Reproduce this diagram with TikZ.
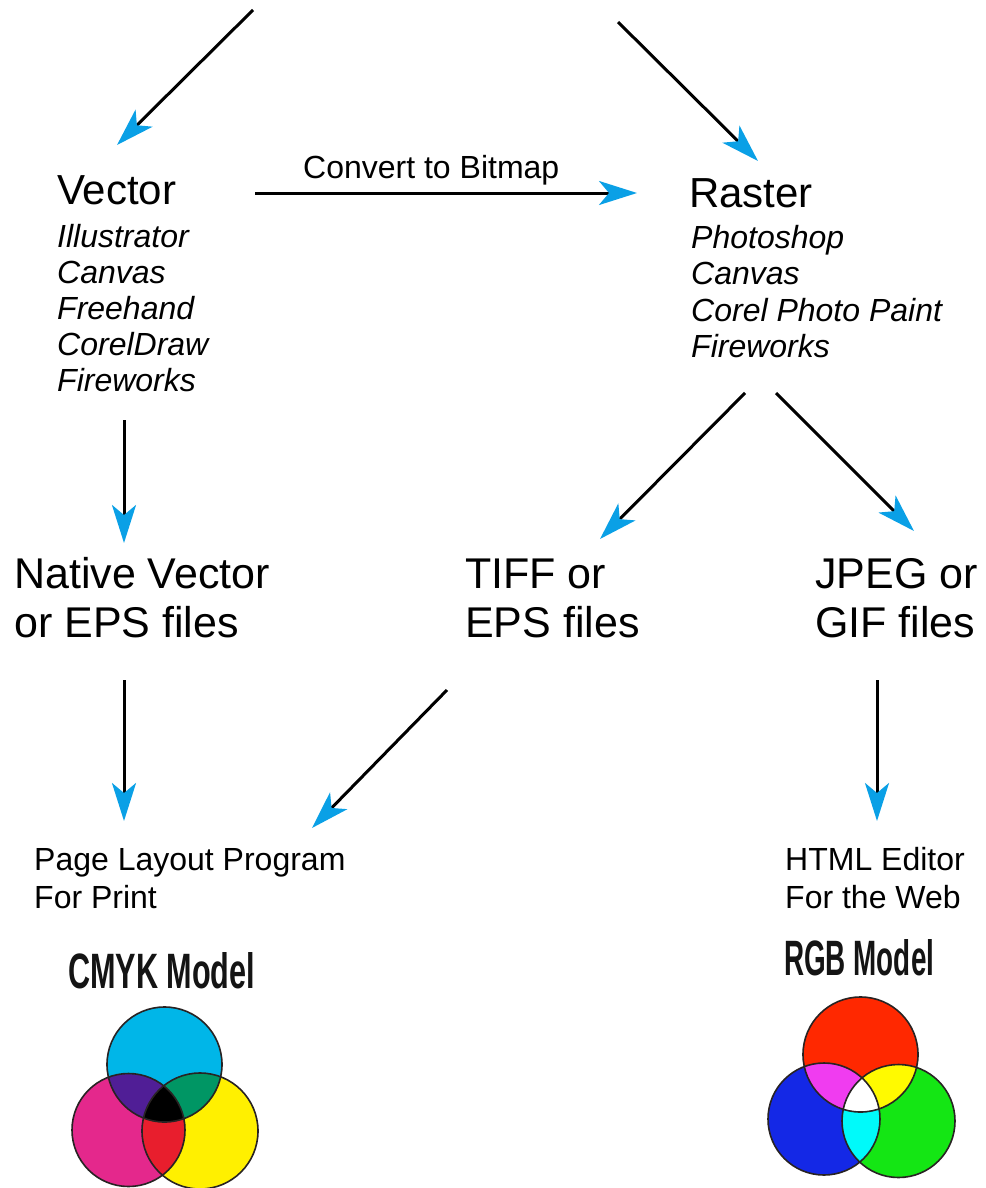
\documentclass[tikz,border=0pt]{standalone}
\usepackage{fontspec}
\setmainfont{Liberation Sans}
\usetikzlibrary{arrows.meta}
\definecolor{arrowblue}{RGB}{10,160,230}
\definecolor{cmykC}{RGB}{0,182,232}
\definecolor{cmykM}{RGB}{228,40,140}
\definecolor{cmykY}{RGB}{255,240,0}
\definecolor{cmykCM}{RGB}{80,30,150}
\definecolor{cmykCY}{RGB}{0,150,100}
\definecolor{cmykMY}{RGB}{232,30,45}
\definecolor{rgbR}{RGB}{255,40,0}
\definecolor{rgbB}{RGB}{20,40,230}
\definecolor{rgbG}{RGB}{20,230,20}
\definecolor{rgbRB}{RGB}{240,60,240}
\definecolor{rgbRG}{RGB}{255,250,0}
\definecolor{rgbBG}{RGB}{0,250,250}
\definecolor{outl}{RGB}{40,35,35}
\definecolor{labelgray}{RGB}{20,20,20}
\tikzset{
  arr/.style={line width=3pt, -{Stealth[length=38pt,width=24pt,inset=10pt,color=arrowblue]}},
  head/.style={anchor=base west, inner sep=0pt, font=\fontsize{42}{42}\selectfont},
  listblk/.style={anchor=base west, inner sep=0pt},
  small/.style={anchor=base west, inner sep=0pt},
  outline/.style={draw=outl, line width=1.6pt},
}
\begin{document}
\begin{tikzpicture}[x=1pt,y=-1pt]
\fill[white] (0,0) rectangle (985,1188);
\useasboundingbox (0,0) rectangle (985,1188);

% Text blocks
\node[head] (vector) at (57,204) {Vector};
\node[listblk] (vlist) at (57,247) {\fontsize{32}{36}\selectfont\itshape
  \begin{tabular}[t]{@{}l@{}}Illustrator\\Canvas\\Freehand\\CorelDraw\\Fireworks\end{tabular}};
\node[head] (raster) at (689,207) {Raster};
\node[listblk] (rlist) at (691,248) {\fontsize{32}{36.5}\selectfont\itshape
  \begin{tabular}[t]{@{}l@{}}Photoshop\\Canvas\\Corel Photo Paint\\Fireworks\end{tabular}};
\node[small] (conv) at (303,178) {\fontsize{32}{32}\selectfont Convert to Bitmap};

\node[listblk] (native) at (14,588) {\fontsize{43}{49}\selectfont
  \begin{tabular}[t]{@{}l@{}}Native Vector\\or EPS files\end{tabular}};
\node[listblk] (tiff) at (465,588) {\fontsize{43}{49}\selectfont
  \begin{tabular}[t]{@{}l@{}}TIFF or\\EPS files\end{tabular}};
\node[listblk] (jpeg) at (815,588) {\fontsize{43}{49}\selectfont
  \begin{tabular}[t]{@{}l@{}}JPEG or\\GIF files\end{tabular}};

\node[listblk] (page) at (34,870) {\fontsize{32}{38}\selectfont
  \begin{tabular}[t]{@{}l@{}}Page Layout Program\\For Print\end{tabular}};
\node[listblk] (html) at (785,870) {\fontsize{32}{38}\selectfont
  \begin{tabular}[t]{@{}l@{}}HTML Editor\\For the Web\end{tabular}};

\node[anchor=south west, inner sep=0pt, text=labelgray] (cmyklab) at (68,989)
  {\resizebox{187pt}{36pt}{\bfseries CMYK Model}};
\node[anchor=south west, inner sep=0pt, text=labelgray] (rgblab) at (784,976)
  {\resizebox{150pt}{36pt}{\bfseries RGB Model}};

% Connector end points
\coordinate (t1) at (253,10);
\coordinate (h1) at (117,145);
\coordinate (t2) at (618,22);
\coordinate (h2) at (758,161);
\coordinate (c3s) at (255,193);
\coordinate (c3e) at (637,193);
\coordinate (v4s) at (124,420);
\coordinate (v4e) at (124,543);
\coordinate (r5s) at (745,393);
\coordinate (r5e) at (600,539);
\coordinate (r6s) at (776,393);
\coordinate (r6e) at (914,531);
\coordinate (n7s) at (124,680);
\coordinate (n7e) at (124,821);
\coordinate (t8s) at (447,690);
\coordinate (t8e) at (312,828);
\coordinate (j9s) at (877,680);
\coordinate (j9e) at (877,821);

\draw[arr] (t1) -- (h1);
\draw[arr] (t2) -- (h2);
\draw[arr] (c3s) -- (c3e);
\draw[arr] (v4s) -- (v4e);
\draw[arr] (r5s) -- (r5e);
\draw[arr] (r6s) -- (r6e);
\draw[arr] (n7s) -- (n7e);
\draw[arr] (t8s) -- (t8e);
\draw[arr] (j9s) -- (j9e);

% CMYK circles
\def\Ccirc{(164.5,1064.5) circle[radius=57.5pt]}
\def\Mcirc{(128.5,1130) circle[radius=56.5pt]}
\def\Ycirc{(200,1131) circle[radius=58pt]}
\fill[cmykC] \Ccirc;
\fill[cmykM] \Mcirc;
\fill[cmykY] \Ycirc;
\begin{scope}\clip \Ccirc; \fill[cmykCM] \Mcirc; \end{scope}
\begin{scope}\clip \Ccirc; \fill[cmykCY] \Ycirc; \end{scope}
\begin{scope}\clip \Mcirc; \fill[cmykMY] \Ycirc; \end{scope}
\begin{scope}\clip \Ccirc; \clip \Mcirc; \fill[black] \Ycirc; \end{scope}
\draw[outline] \Ccirc;
\draw[outline] \Mcirc;
\draw[outline] \Ycirc;

% RGB circles
\def\Rcirc{(860.5,1054.5) circle[radius=57.5pt]}
\def\Bcirc{(824,1119) circle[radius=56pt]}
\def\Gcirc{(898.5,1121) circle[radius=56.5pt]}
\fill[rgbR] \Rcirc;
\fill[rgbB] \Bcirc;
\fill[rgbG] \Gcirc;
\begin{scope}\clip \Rcirc; \fill[rgbRB] \Bcirc; \end{scope}
\begin{scope}\clip \Rcirc; \fill[rgbRG] \Gcirc; \end{scope}
\begin{scope}\clip \Bcirc; \fill[rgbBG] \Gcirc; \end{scope}
\begin{scope}\clip \Rcirc; \clip \Bcirc; \fill[white] \Gcirc; \end{scope}
\draw[outline] \Rcirc;
\draw[outline] \Bcirc;
\draw[outline] \Gcirc;
\end{tikzpicture}
\end{document}
